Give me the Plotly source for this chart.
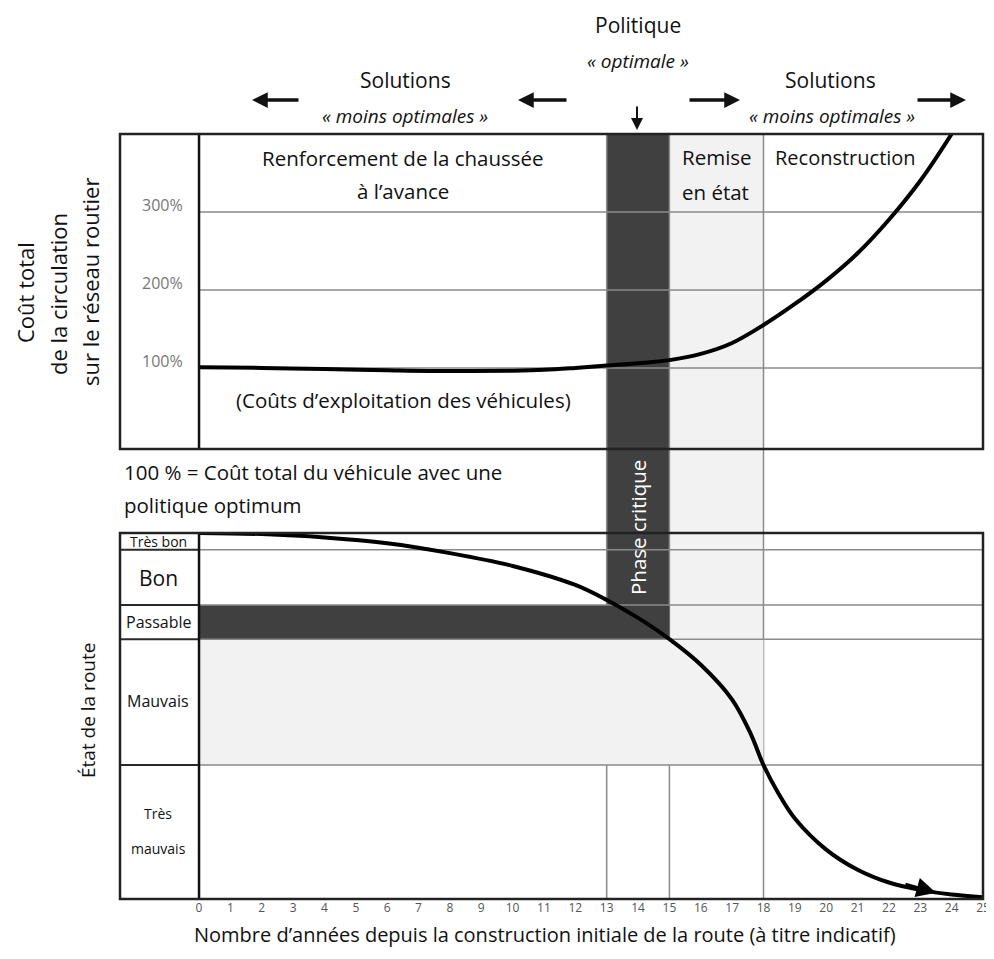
import plotly.graph_objects as go

# ---------------- data ----------------
years_ticks = list(range(0, 26))

# upper panel: total road transport cost (% of optimum)
cost_years = [0, 2, 4, 6, 8, 10, 11, 12, 13, 14, 15, 16, 17, 18, 19, 20, 21, 22, 23, 24, 24.3]
cost_pct = [101, 100, 98.5, 97, 96, 96.5, 97.5, 100, 103, 106, 110, 118, 132, 155, 182, 212, 247, 290, 340, 400, 420]
cost_grid = [100, 200, 300]
cost_labels = ["100%", "200%", "300%"]

# lower panel: road condition (index 0-10)
cond_years = [0, 2, 4, 6, 8, 10, 12, 13, 14, 15, 16, 17, 17.6, 18, 18.5, 19, 20, 21, 22, 23, 24, 25]
cond_val = [10.0, 9.97, 9.88, 9.72, 9.45, 9.1, 8.58, 8.17, 7.68, 7.1, 6.4, 5.45, 4.5, 3.66, 2.85, 2.2, 1.35, 0.8, 0.45, 0.25, 0.12, 0.05]
cond_bands = ["Très bon", "Bon", "Passable", "Mauvais", "Très mauvais"]
cond_edges = [10.0, 9.54, 8.03, 7.10, 3.66, 0.0]

phase_critique = (13, 15)
remise = (15, 18)

# ---------------- layout geometry ----------------
OFF = 8  # page body margin
W, H = 994 - OFF, 959 - 2 * OFF
ML, MT = 120 - OFF, 134 - OFF
MR = OFF + W - 983
MB = OFF + H - 899
XMIN, XMAX = -2.52, 25
PLOT_H = H - MT - MB
UP_DOM = [(899 - 449) / (899 - 134), 1.0]
LO_DOM = [0.0, (899 - 533) / (899 - 134)]
FONT = "Open Sans"
DARK = "#404040"
LIGHT = "#f2f2f2"
GRID = "#8a8a8a"


def px_x(px):
    return (px - OFF - ML) / (W - ML - MR)


def px_y(py):
    return (H - MB - (py - OFF)) / PLOT_H


fig = go.Figure()
fig.add_trace(go.Scatter(x=cost_years, y=cost_pct, mode="lines", xaxis="x", yaxis="y",
                         line=dict(color="black", width=4, shape="spline", smoothing=1),
                         hoverinfo="skip", showlegend=False))
fig.add_trace(go.Scatter(x=cond_years, y=cond_val, mode="lines", xaxis="x", yaxis="y2",
                         line=dict(color="black", width=4, shape="spline", smoothing=1),
                         hoverinfo="skip", showlegend=False))

shapes = []
# light shading
shapes.append(dict(type="rect", xref="x", yref="paper", x0=remise[0], x1=remise[1],
                   y0=px_y(765), y1=1, fillcolor=LIGHT, line_width=0, layer="below"))
shapes.append(dict(type="rect", xref="x", yref="y2", x0=0, x1=remise[1],
                   y0=cond_edges[4], y1=cond_edges[3], fillcolor=LIGHT, line_width=0, layer="below"))
# dark critical phase
shapes.append(dict(type="rect", xref="x", yref="paper", x0=phase_critique[0], x1=phase_critique[1],
                   y0=px_y(639), y1=1, fillcolor=DARK, line_width=0, layer="below"))
shapes.append(dict(type="rect", xref="x", yref="y2", x0=0, x1=phase_critique[1],
                   y0=cond_edges[3], y1=cond_edges[2], fillcolor=DARK, line_width=0, layer="below"))
# upper grid
for g in cost_grid:
    shapes.append(dict(type="line", xref="x", yref="y", x0=0, x1=XMAX, y0=g, y1=g,
                       line=dict(color=GRID, width=1.5), layer="below"))
# lower band lines
for e in cond_edges[1:-1]:
    shapes.append(dict(type="line", xref="x", yref="y2", x0=0, x1=XMAX, y0=e, y1=e,
                       line=dict(color=GRID, width=1.5), layer="below"))
    shapes.append(dict(type="line", xref="paper", yref="y2", x0=0, x1=px_x(199), y0=e, y1=e,
                       line=dict(color="#2a2a2a", width=2), layer="below"))
# vertical lines 13, 15, 18
for v in [phase_critique[0], phase_critique[1], remise[1]]:
    shapes.append(dict(type="line", xref="x", yref="paper", x0=v, x1=v, y0=0, y1=1,
                       line=dict(color=GRID, width=1.5), layer="below"))
# year-0 separators & panel borders
for yd in ["y domain", "y2 domain"]:
    shapes.append(dict(type="line", xref="x", yref=yd, x0=0, x1=0, y0=0, y1=1,
                       line=dict(color="#111", width=2.5)))
    shapes.append(dict(type="rect", xref="paper", yref=yd, x0=0, x1=1, y0=0, y1=1,
                       line=dict(color="#222", width=2.5), fillcolor="rgba(0,0,0,0)"))

ann = []


def txt(s, px, py, size, color="#111", italic=False, xanchor="center", angle=0):
    ann.append(dict(text=s, x=px_x(px), y=px_y(py), xref="paper", yref="paper",
                    xanchor=xanchor, yanchor="middle", showarrow=False, textangle=angle,
                    font=dict(family=FONT, size=size, color=color,
                              style="italic" if italic else "normal")))


# header
txt("Politique", 638, 25, 21)
txt("« optimale »", 638, 61, 19, italic=True)
txt("Solutions", 405, 80, 21)
txt("« moins optimales »", 405, 116, 19, italic=True)
txt("Solutions", 830, 80, 21)
txt("« moins optimales »", 832, 116, 19, italic=True)

# header arrows (head px, tail offset)
for head, off in [(252, 48), (518, 50), (740, -52), (966, -50)]:
    ann.append(dict(text="", x=px_x(head), y=px_y(100), xref="paper", yref="paper",
                    showarrow=True, ax=off, ay=0, arrowhead=2, arrowsize=0.9,
                    arrowwidth=3.5, arrowcolor="#111"))
ann.append(dict(text="", x=px_x(637), y=px_y(130), xref="paper", yref="paper",
                showarrow=True, ax=0, ay=-25, arrowhead=2, arrowsize=1.2,
                arrowwidth=2, arrowcolor="#111"))

# inner texts upper panel
txt("Renforcement de la chaussée", 403, 158, 20.5)
txt("à l’avance", 403, 191, 20.5)
txt("Remise", 717, 157, 20.5)
txt("en état", 680, 192, 20.5, xanchor="left")
txt("Reconstruction", 845, 157, 20)
txt("(Coûts d’exploitation des véhicules)", 403, 400, 20.5)
for g, lab in zip(cost_grid, cost_labels):
    ann.append(dict(text=lab, x=px_x(162), y=g, xref="paper", yref="y", yshift=7,
                    xanchor="center", yanchor="middle", showarrow=False,
                    font=dict(family=FONT, size=16, color="#777")))

# between panels
txt("100 % = Coût total du véhicule avec une", 122, 472, 20.5, xanchor="left")
txt("politique optimum", 122, 505, 20.5, xanchor="left")
txt("Phase critique", 638, 528, 20.5, color="white", angle=-90)

# lower panel labels
band_px = [(541, 14), (578, 21), (622, 16), (701, 16)]
for (py, sz), lab in zip(band_px, cond_bands[:4]):
    txt(lab, 158, py, sz)
txt("Très", 158, 813, 14)
txt("mauvais", 158, 848, 14)

# curve end arrow
ann.append(dict(text="", x=23.5, y=0.17, xref="x", yref="y2", showarrow=True,
                ax=-32, ay=-9, arrowhead=2, arrowsize=1.3, arrowwidth=3, arrowcolor="black"))

# axis titles
txt("Coût total", 25, 293, 22, angle=-90)
txt("de la circulation", 58, 294, 22, angle=-90)
txt("sur le réseau routier", 90, 282, 22, angle=-90)
txt("État de la route", 88, 711, 19, angle=-90)
txt("Nombre d’années depuis la construction initiale de la route (à titre indicatif)", 545, 934, 20)

fig.update_layout(
    width=W, height=H,
    margin=dict(l=ML, r=MR, t=MT, b=MB),
    paper_bgcolor="white", plot_bgcolor="white",
    showlegend=False,
    shapes=shapes, annotations=ann,
    xaxis=dict(range=[XMIN, XMAX], anchor="y2", tickvals=years_ticks,
               ticktext=[str(v) for v in years_ticks], showgrid=False, zeroline=False,
               showline=False, ticks="", automargin=False,
               tickfont=dict(family=FONT, size=12, color="#555")),
    yaxis=dict(domain=UP_DOM, range=[-4, 400], showgrid=False, zeroline=False,
               showticklabels=False, anchor="x"),
    yaxis2=dict(domain=LO_DOM, range=[0, 10], showgrid=False, zeroline=False,
                showticklabels=False, anchor="x"),
)

fig.write_html("out.html")
